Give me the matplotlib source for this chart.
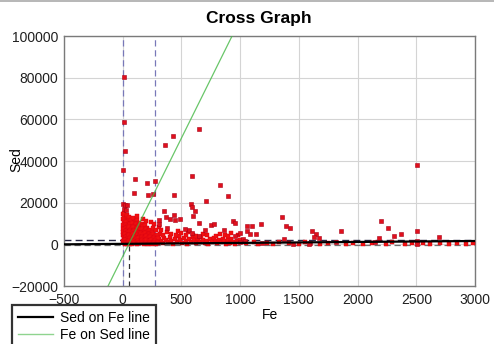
"""Cross graph of Sed against Fe with the two regression lines and mean guides."""

import numpy as np
import matplotlib
matplotlib.use("Agg")
import matplotlib.pyplot as plt
from matplotlib.lines import Line2D
from matplotlib.patches import Rectangle

plt.rcParams["font.family"] = ["Liberation Sans", "DejaVu Sans"]

# scattered samples (Fe, Sed)
fe_outliers = [13, 11, 22, 5, 105, 277, 357, 425, 652, 591, 2503, 206, 92, 214, 259, 434,
               824, 898, 583, 708, 350, 434, 612, 596, 488, 942, 952, 750, 780, 650, 366,
               403, 445, 306, 306, 375, 530, 703, 565, 590, 647, 860, 955, 1060, 1359, 1393,
               1425, 1175, 1061, 1104, 1081, 1132, 1376, 1614, 1648, 1672, 1626, 1862, 2199,
               2256, 2310, 2372, 2503, 2693, 2185, 2503, 2503, 2150, 1594, 1590, 1820, 1452,
               1190, 1027, 1000, 999, 1040, 590, 5, 20, 40, 10, 30]
sed_outliers = [80500, 58900, 45000, 35800, 31400, 30500, 47700, 52000, 55200, 32700, 38300,
                29400, 24600, 23500, 24200, 23900, 28700, 23300, 19400, 20600, 15800, 14300,
                16000, 13600, 12000, 11400, 10200, 9100, 9800, 10200, 13100, 12200, 11800,
                11500, 9700, 8000, 7400, 7000, 6900, 5400, 4200, 6900, 4200, 6600, 13000, 8800,
                7700, 9900, 8800, 8800, 4800, 5000, 2400, 6400, 5100, 2900, 3400, 6200, 11300,
                8000, 4200, 4800, 6200, 3400, 3000, 1400, 300, 900, 800, 100, 900, 100, 800,
                2400, 1300, 5600, 1400, 17800, 19500, 19000, 18800, 17000, 16500]

# dense cluster near the origin (Fe, Sed)
fe_cluster = [2, 8, 15, 25, 35, 45, 3, 12, 20, 30, 42, 5, 18, 28, 38, 48, 4, 14, 24, 34, 44,
              6, 16, 26, 36, 46, 3, 13, 23, 33, 43, 7, 17, 27, 37, 47, 2, 12, 22, 32, 42,
              8, 18, 28, 38, 48,
              55, 70, 88, 102, 120, 140, 60, 78, 95, 112, 130, 148, 52, 68, 85, 100, 118, 135,
              150, 58, 75, 92, 108, 125, 142, 55, 72, 90, 105, 122, 138, 150, 62, 80, 97, 115,
              132, 146, 57, 74, 91, 110, 127, 145, 65, 83, 100, 118, 136,
              160, 175, 190, 210, 165, 182, 198, 215, 232, 250, 158, 172, 188, 205, 222, 240,
              258, 275, 292, 162, 178, 195, 212, 228, 245, 262, 280, 298, 168, 185, 202, 220,
              238, 255, 272, 290, 160, 178, 196, 214, 232, 250, 268, 286, 300,
              120, 175, 200, 240, 265, 255, 285, 310, 330]
sed_cluster = [14800, 13500, 15200, 12800, 14000, 11900, 12000, 11000, 10200, 10800, 9800,
               9500, 8800, 9200, 8400, 8900, 7600, 7200, 7800, 6900, 7300, 6000, 5600, 6200,
               5400, 5900, 4600, 4200, 4800, 4000, 4500, 3200, 2800, 3400, 2600, 3000, 1800,
               1400, 2000, 1200, 1700, 600, 300, 800, 200, 500,
               13000, 11800, 12500, 10900, 11600, 10200, 9600, 10300, 9000, 9800, 8700, 9300,
               8100, 7500, 8200, 7100, 7800, 6900, 7400, 6300, 5800, 6500, 5600, 6100, 5300,
               4700, 4200, 4900, 3900, 4400, 3700, 4600, 3100, 2700, 3300, 2500, 2900, 2200,
               1600, 1200, 1800, 1000, 1500, 900, 400, 200, 600, 300, 500,
               9800, 8600, 9400, 7800, 7200, 6600, 7400, 6200, 6900, 5800, 5400, 4800, 5600,
               4600, 5200, 4300, 4900, 4000, 4500, 3600, 3100, 3800, 2900, 3400, 2700, 3200,
               2500, 3000, 2000, 1600, 2200, 1400, 1900, 1200, 1700, 1100, 700, 300, 800, 200,
               600, 100, 500, 200, 700,
               13600, 12400, 11200, 10500, 9700, 7800, 6700, 8300, 7000]

# low band along the Fe axis (Fe, Sed)
fe_band = [310, 325, 340, 355, 370, 385, 400, 415, 430, 445, 460, 475, 490, 505, 520, 535,
           550, 565, 580, 595, 610, 625, 640, 655, 670, 685, 700, 715, 730, 745, 760, 775,
           790, 805, 820, 835, 850, 865, 880, 895, 910, 925, 940, 955, 970, 985, 1000,
           1050, 1120, 1150, 1230, 1280, 1330, 1420, 1500, 1550, 1680, 1750, 1900, 1960,
           2050, 2120, 2240, 2290, 2400, 2460, 2560, 2620, 2700, 2780, 2850, 2920, 2980,
           320, 345, 380, 410, 455, 470, 500, 540, 560, 600, 620, 680, 720, 790, 830, 870,
           900, 920, 980]
sed_band = [2800, 1500, 600, 3200, 2100, 900, 3600, 1800, 400, 2600, 1200, 3900, 2000, 700,
            3000, 1500, 200, 2500, 1000, 3400, 1900, 500, 2800, 1300, 3700, 2200, 800, 1700,
            300, 2500, 1100, 3000, 1600, 500, 2200, 1000, 2700, 1400, 300, 1900, 800, 2400,
            1200, 400, 1700, 900, 2100,
            600, 1000, 300, 700, 200, 900, 500, 300, 1100, 400, 700, 300, 800, 200, 600, 400,
            900, 300, 700, 500, 200, 600, 300, 800, 400, 600,
            5200, 4400, 6000, 5000, 4700, 6300, 5300, 4300, 6000, 4700, 3900, 5100, 4600,
            4000, 5200, 4500, 3800, 5600, 4600]

# regression lines: Sed = a + b*Fe and Fe = a + b*Sed
sed_on_fe = (230, 0.457)
fe_on_sed = (51, 0.0088)

# guide levels
fe_guides = [0, 275]
sed_mean = 2100
sed_low = -100
fe_mean = 55

x_ticks = [-500, 0, 500, 1000, 1500, 2000, 2500, 3000]
y_ticks = [-20000, 0, 20000, 40000, 60000, 80000, 100000]

fig = plt.figure(figsize=(4.94, 3.44), dpi=100)
ax = fig.add_axes([0.1296, 0.1686, 0.832, 0.7267])
ax.set_xlim(-500, 3000)
ax.set_ylim(-20000, 100000)
ax.set_xticks(x_ticks)
ax.set_yticks(y_ticks)
ax.tick_params(length=0, labelsize=10, colors="#202020")
ax.tick_params(axis="x", pad=5)
ax.tick_params(axis="y", pad=4)
ax.grid(True, color="#d4d4d4", lw=0.8)
ax.set_axisbelow(True)
for s in ax.spines.values():
    s.set_color("#7a7a7a")
    s.set_linewidth(1.0)

# guides
for g in fe_guides:
    ax.axvline(g, color="#7878b8", ls=(0, (5, 3)), lw=0.9, zorder=2)
ax.axhline(sed_mean, color="#262645", ls=(0, (5, 3)), lw=1.0, zorder=2)
ax.axhline(sed_low, color="#707070", ls=(0, (5, 3)), lw=0.9, zorder=2)
ax.plot([fe_mean, fe_mean], [-20000, 0], color="#303030", ls=(0, (4, 3)), lw=0.9, zorder=2)

dense = dict(marker="s", ms=3.2, ls="none", mfc="#f01010", mec="#d80010", mew=0.3, zorder=3)
loose = dict(marker="s", ms=2.8, ls="none", mfc="#e0101c", mec="#a80018", mew=0.4, zorder=3)
ax.plot(fe_band, sed_band, **dense)
ax.plot(fe_cluster, sed_cluster, **dense)
ax.plot(fe_outliers, sed_outliers, **loose)

xs = np.array([-500, 3000])
ax.plot(xs, sed_on_fe[0] + sed_on_fe[1] * xs, color="black", lw=1.6, zorder=4)
ys = np.array([-20000, 100000])
ax.plot(fe_on_sed[0] + fe_on_sed[1] * ys, ys, color="#44b844", lw=0.9, alpha=0.8, zorder=4)

fig.text(259 / 494, 1 - 18 / 344, "Cross Graph", ha="center", va="center",
         fontsize=12.5, fontweight="bold")
fig.text(270 / 494, 1 - 315 / 344, "Fe", ha="center", va="center", fontsize=10)
fig.text(16 / 494, 1 - 160 / 344, "Sed", ha="center", va="center", fontsize=10, rotation=90)

# grey strip along the top edge
fig.add_artist(Rectangle((0, 1 - 2 / 344), 1, 2 / 344, transform=fig.transFigure,
                         color="#b8b8b8", lw=0))

handles = [Line2D([], [], color="black", lw=1.6),
           Line2D([], [], color="#8fd48f", lw=1.0)]
leg = fig.legend(handles, ["Sed on Fe line", "Fe on Sed line"], loc="upper left",
                 bbox_to_anchor=(12 / 494, 1 - 305 / 344), fontsize=10, frameon=True,
                 fancybox=False, borderpad=0.45, handlelength=2.5, handletextpad=0.5,
                 labelspacing=0.2, borderaxespad=0)
leg.get_frame().set_edgecolor("black")
leg.get_frame().set_linewidth(1.6)

fig.savefig("out.png", dpi=100)
